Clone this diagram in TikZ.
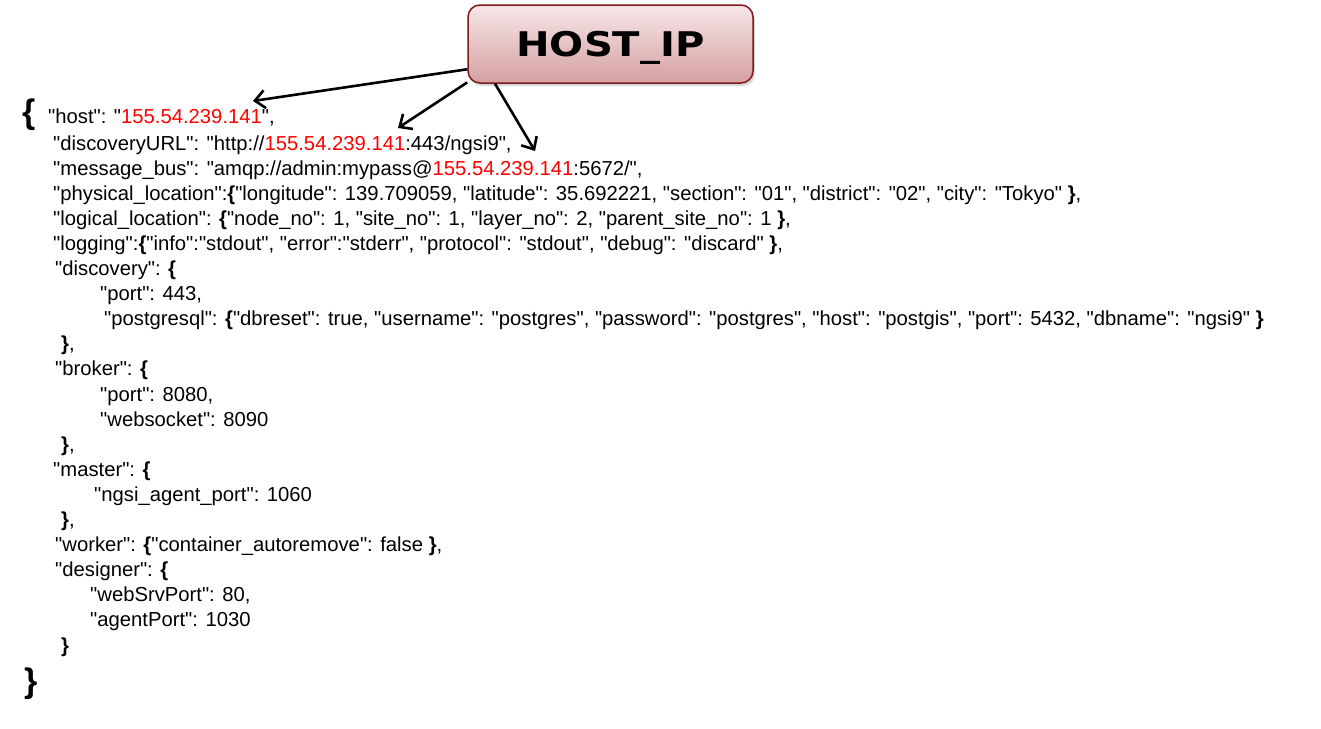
\documentclass[tikz,border=0pt]{standalone}
\usepackage{fontspec}
\newfontfamily\jf{Liberation Sans}
\newfontfamily\hostfont{DejaVu Sans}
\usetikzlibrary{arrows.meta,shadows}
\definecolor{ipred}{HTML}{FF0000}
\definecolor{boxborder}{HTML}{7F1A1C}
\definecolor{boxtop}{HTML}{F7E6E7}
\definecolor{boxbot}{HTML}{D5A0A2}
\newcommand{\ipaddr}{\textcolor{ipred}{155.54.239.141}}
\newcommand{\ob}{\textbf{\{}}
\newcommand{\cb}{\textbf{\}}}
\begin{document}
\begin{tikzpicture}[x=1pt,y=-1pt,
  jl/.style={anchor=base west, inner sep=0pt, font=\jf\fontsize{20.25}{24}\selectfont},
  bigbrace/.style={anchor=base west, inner sep=0pt, font=\jf\fontsize{34}{40}\selectfont\bfseries},
  hostbox/.style={draw=boxborder, line width=1.5pt, rounded corners=12pt,
    top color=boxtop, bottom color=boxbot, minimum width=285pt, minimum height=78pt,
    text height=25pt, text depth=0pt,
    drop shadow={opacity=0.3, shadow xshift=2pt, shadow yshift=-3pt},
    font=\hostfont\bfseries\fontsize{34}{40}\selectfont},
  arr/.style={line width=2.6pt, -{Straight Barb[length=10pt,width=18pt,line width=2.6pt]}}
]
\path[use as bounding box, fill=white] (0,0) rectangle (1321,728);

\node[hostbox] (hb) at (610.5,44) {\scalebox{1.18}[1]{HOST\_IP}};

\node[bigbrace] (ob1) at (22,123) {\{};
\node[jl] (l0) at (48,123.5) {"host": "\ipaddr",};
\node[jl] (l1) at (53,150) {"discoveryURL": "http://\ipaddr:443/ngsi9",};
\node[jl] (l2) at (53,175.1) {"message\_bus": "amqp://admin:mypass@\ipaddr:5672/",};
\node[jl] (l3) at (53,200.2) {"physical\_location":\ob"longitude": 139.709059, "latitude": 35.692221, "section": "01", "district": "02", "city": "Tokyo" \cb,};
\node[jl] (l4) at (53,225.3) {"logical\_location": \ob "node\_no": 1, "site\_no": 1, "layer\_no": 2, "parent\_site\_no": 1 \cb,};
\node[jl] (l5) at (53,250.4) {"logging":\ob "info":"stdout", "error":"stderr", "protocol": "stdout", "debug": "discard" \cb,};
\node[jl] (l6) at (55,275.5) {"discovery": \ob};
\node[jl] (l7) at (100,300.6) {"port": 443,};
\node[jl] (l8) at (104,325.7) {"postgresql": \ob "dbreset": true, "username": "postgres", "password": "postgres", "host": "postgis", "port": 5432, "dbname": "ngsi9" \cb};
\node[jl] (l9) at (61,350.8) {\cb,};
\node[jl] (l10) at (55,375.9) {"broker": \ob};
\node[jl] (l11) at (100,401) {"port": 8080,};
\node[jl] (l12) at (100,426.1) {"websocket": 8090};
\node[jl] (l13) at (61,451.2) {\cb,};
\node[jl] (l14) at (53,476.3) {"master": \ob};
\node[jl] (l15) at (94,501.4) {"ngsi\_agent\_port": 1060};
\node[jl] (l16) at (61,526.5) {\cb,};
\node[jl] (l17) at (55,551.6) {"worker": \ob "container\_autoremove": false \cb,};
\node[jl] (l18) at (55,576.7) {"designer": \ob};
\node[jl] (l19) at (90,601.8) {"webSrvPort": 80,};
\node[jl] (l20) at (90,626.9) {"agentPort": 1030};
\node[jl] (l21) at (61,652) {\cb};
\node[bigbrace] (cb1) at (24,692) {\}};

\coordinate (t1) at (253,101);
\coordinate (t2) at (398,128);
\coordinate (t3) at (535,151);
\draw[arr] (hb.190) -- (t1);
\draw[arr] (hb.195) -- (t2);
\draw[arr] (hb.199) -- (t3);
\end{tikzpicture}
\end{document}
